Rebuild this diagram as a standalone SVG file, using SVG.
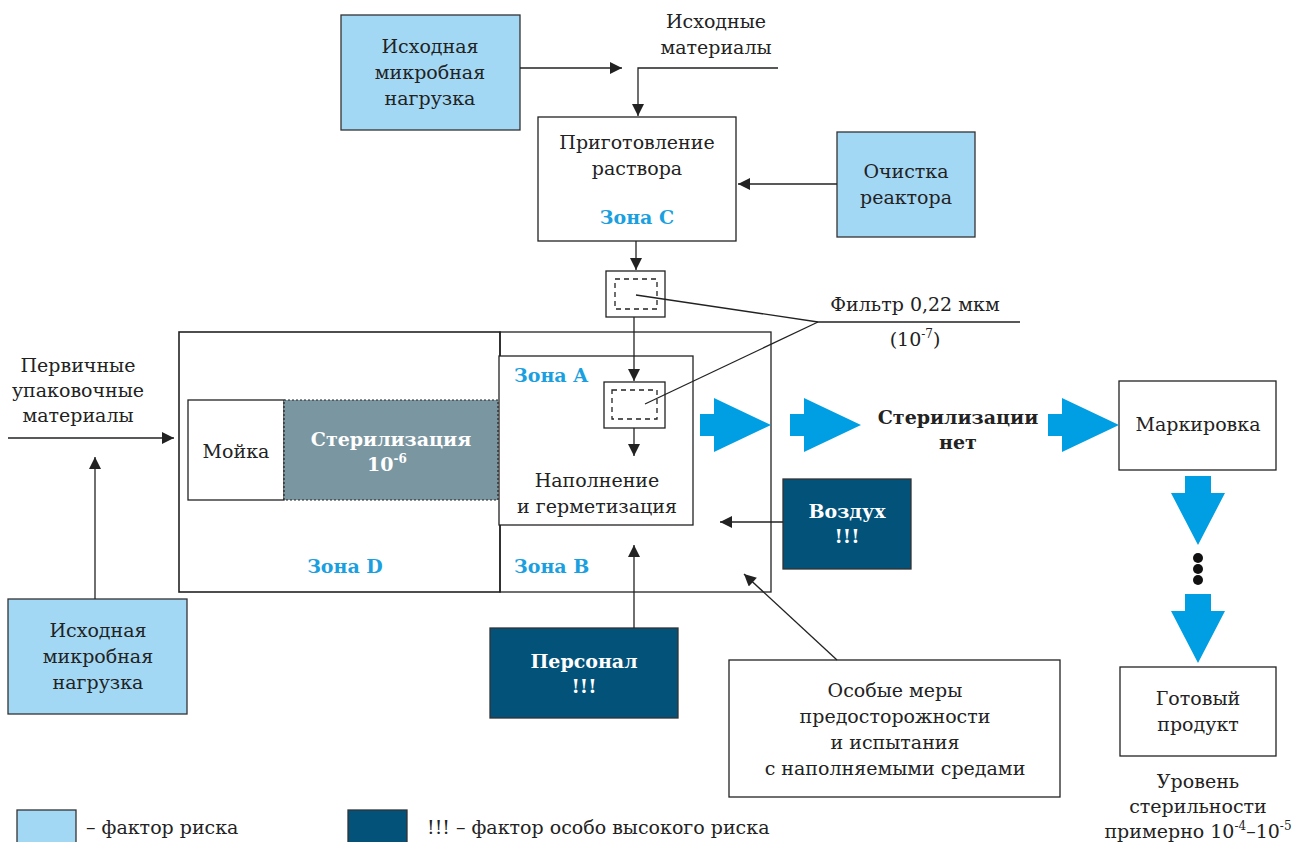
<svg xmlns="http://www.w3.org/2000/svg" width="1306" height="842" viewBox="0 0 1306 842">
<style>
text{font-family:"DejaVu Serif","Liberation Serif",serif;font-size:19px;fill:#222;text-anchor:middle}
.b{font-weight:bold}
.w{fill:#fff;font-weight:bold}
.z{fill:#1a9fe0;font-weight:bold}
.l{text-anchor:start}
.sup{font-size:12px}
.box{fill:#fff;stroke:#222;stroke-width:1.3}
.risk{fill:#a3d8f5;stroke:#333;stroke-width:1.3}
.high{fill:#02527a;stroke:#333;stroke-width:1.3}
.ln{fill:none;stroke:#222;stroke-width:1.3}
.dash{fill:none;stroke:#222;stroke-width:1.3;stroke-dasharray:5,4}
.big{fill:#009fe3}
</style>
<defs>
<marker id="ah" viewBox="0 0 10 10" refX="10" refY="5" markerWidth="16" markerHeight="12" markerUnits="userSpaceOnUse" orient="auto"><path d="M0,0 L10,5 L0,10 z" fill="#222"/></marker>
<path id="ra" d="M0,-11 L14,-11 L14,-27 L71,0 L14,27 L14,11 L0,11 z"/>
<path id="da" d="M-13,0 L13,0 L13,17 L27,17 L0,69 L-27,17 L-13,17 z"/>
</defs>

<g id="zones">
<rect x="179" y="332" width="321" height="260" fill="none" stroke="#222" stroke-width="1.6"/>
<rect x="500" y="332" width="271" height="260" class="ln"/>
<text x="345" y="573" class="z">Зона D</text>
<text x="514" y="573" class="z l">Зона B</text>
</g>

<g id="src1">
<rect x="341" y="15" width="179" height="115" class="risk"/>
<text x="430" y="53">Исходная</text>
<text x="430" y="79">микробная</text>
<text x="430" y="105">нагрузка</text>
</g>
<g id="rawmat">
<text x="716" y="28">Исходные</text>
<text x="716" y="54">материалы</text>
</g>
<g id="prep">
<rect x="538" y="117" width="198" height="124" class="box"/>
<text x="637" y="149">Приготовление</text>
<text x="637" y="175">раствора</text>
<text x="637" y="224" class="z">Зона C</text>
</g>
<g id="clean">
<rect x="837" y="132" width="138" height="105" class="risk"/>
<text x="906" y="178">Очистка</text>
<text x="906" y="204">реактора</text>
</g>
<g id="filter1">
<rect x="606" y="271" width="59" height="46" class="box"/>
<rect x="615" y="279" width="42" height="30" class="dash"/>
</g>
<g id="filterlabel">
<text x="915" y="311">Фильтр 0,22 мкм</text>
<text x="915" y="346">(10<tspan class="sup" dy="-8">-7</tspan><tspan dy="8">)</tspan></text>
</g>
<g id="zoneA">
<rect x="499" y="356" width="194" height="169" class="box"/>
<text x="514" y="382" class="z l">Зона A</text>
<text x="597" y="487">Наполнение</text>
<text x="597" y="513">и герметизация</text>
</g>
<g id="filter2">
<rect x="604" y="382" width="61" height="46" class="box"/>
<rect x="612" y="390" width="45" height="29" class="dash"/>
</g>
<g id="wash">
<rect x="188" y="400" width="96" height="100" class="box"/>
<text x="236" y="458">Мойка</text>
</g>
<g id="steril">
<rect x="284" y="400" width="214" height="100" fill="#7a96a1" stroke="#222" stroke-width="1.2" stroke-dasharray="2,2"/>
<text x="391" y="446" class="w">Стерилизация</text>
<text x="387" y="471" class="w">10<tspan class="sup" dy="-8">-6</tspan></text>
</g>
<g id="primary">
<text x="78" y="372">Первичные</text>
<text x="78" y="397">упаковочные</text>
<text x="78" y="422">материалы</text>
</g>
<g id="src2">
<rect x="8" y="599" width="179" height="115" class="risk"/>
<text x="98" y="637">Исходная</text>
<text x="98" y="663">микробная</text>
<text x="98" y="689">нагрузка</text>
</g>
<g id="air">
<rect x="783" y="479" width="128" height="90" class="high"/>
<text x="847" y="518" class="w">Воздух</text>
<text x="847" y="543" class="w">!!!</text>
</g>
<g id="staff">
<rect x="490" y="628" width="188" height="90" class="high"/>
<text x="584" y="668" class="w">Персонал</text>
<text x="584" y="693" class="w">!!!</text>
</g>
<g id="measures">
<rect x="729" y="660" width="331" height="137" class="box"/>
<text x="895" y="697">Особые меры</text>
<text x="895" y="723">предосторожности</text>
<text x="895" y="749">и испытания</text>
<text x="895" y="775">с наполняемыми средами</text>
</g>
<g id="nosteril">
<text x="958" y="424" class="b">Стерилизации</text>
<text x="958" y="449" class="b">нет</text>
</g>
<g id="label">
<rect x="1119" y="381" width="157" height="89" class="box"/>
<text x="1198" y="431">Маркировка</text>
</g>
<g id="product">
<rect x="1120" y="667" width="156" height="89" class="box"/>
<text x="1198" y="705">Готовый</text>
<text x="1198" y="731">продукт</text>
<text x="1198" y="788">Уровень</text>
<text x="1198" y="813">стерильности</text>
<text x="1198" y="838">примерно 10<tspan class="sup" dy="-8">-4</tspan><tspan dy="8">–10</tspan><tspan class="sup" dy="-8">-5</tspan></text>
</g>
<g id="legend">
<rect x="17" y="810" width="59" height="40" class="risk"/>
<text x="86" y="834" class="l">– фактор риска</text>
<rect x="348" y="810" width="59" height="40" class="high"/>
<text x="427" y="834" class="l">!!! – фактор особо высокого риска</text>
</g>

<g id="connectors">
<line x1="520" y1="68" x2="622" y2="68" class="ln" marker-end="url(#ah)"/>
<polyline points="778,68 638,68 638,116" class="ln" marker-end="url(#ah)"/>
<line x1="837" y1="184" x2="738" y2="184" class="ln" marker-end="url(#ah)"/>
<line x1="636" y1="241" x2="636" y2="270" class="ln" marker-end="url(#ah)"/>
<line x1="634" y1="317" x2="634" y2="381" class="ln" marker-end="url(#ah)"/>
<line x1="634" y1="428" x2="634" y2="456" class="ln" marker-end="url(#ah)"/>
<polyline points="636,295 818,322 1020,322" class="ln"/>
<line x1="818" y1="322" x2="645" y2="404" class="ln"/>
<line x1="8" y1="438" x2="174" y2="438" class="ln" marker-end="url(#ah)"/>
<line x1="95" y1="599" x2="95" y2="457" class="ln" marker-end="url(#ah)"/>
<line x1="783" y1="522" x2="720" y2="522" class="ln" marker-end="url(#ah)"/>
<line x1="634" y1="628" x2="634" y2="545" class="ln" marker-end="url(#ah)"/>
<line x1="837" y1="660" x2="744" y2="574" class="ln" marker-end="url(#ah)"/>
<use href="#ra" x="700" y="425" class="big"/>
<use href="#ra" x="790" y="425" class="big"/>
<use href="#ra" x="1048" y="425" class="big"/>
<use href="#da" x="1198" y="476" class="big"/>
<use href="#da" x="1198" y="594" class="big"/>
<circle cx="1198" cy="558" r="5" fill="#111"/>
<circle cx="1198" cy="569" r="5" fill="#111"/>
<circle cx="1198" cy="580" r="5" fill="#111"/>
</g>
</svg>
